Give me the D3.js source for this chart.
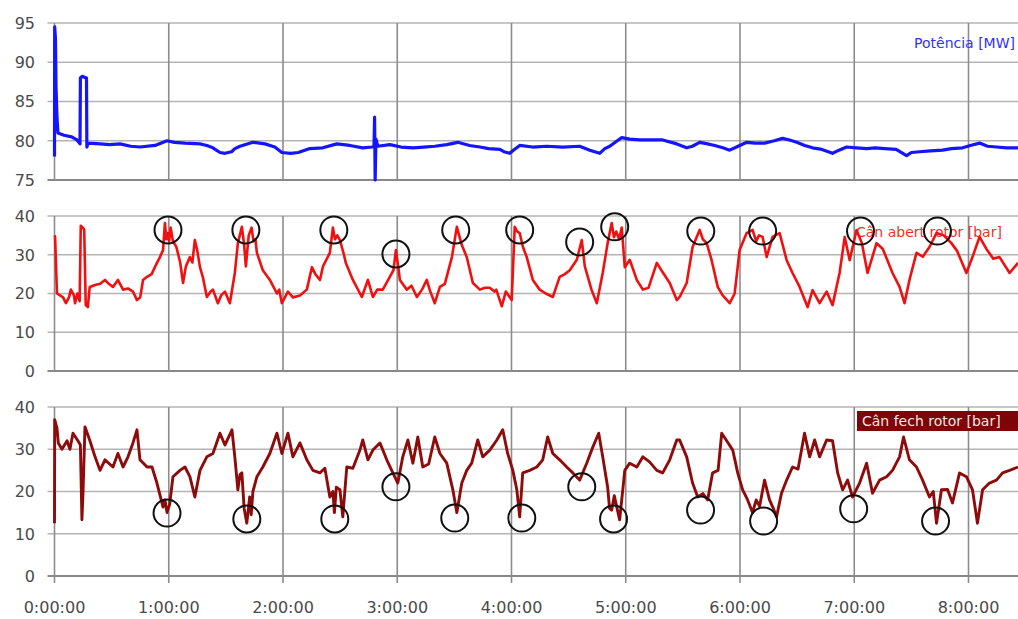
<!DOCTYPE html>
<html>
<head>
<meta charset="utf-8">
<script src="https://cdn.jsdelivr.net/npm/d3@7"></script>
<style>
  body { margin: 0; background: #fff; }
  text { font-family: 'DejaVu Sans', sans-serif; }
</style>
</head>
<body>
<div id="chart"></div>
<script>
// time in minutes from start
const hourTicks = [0, 60, 120, 180, 240, 300, 360, 420, 480];
const hourLabels = ['0:00:00', '1:00:00', '2:00:00', '3:00:00', '4:00:00', '5:00:00', '6:00:00', '7:00:00', '8:00:00'];
const potenciaTicks = [75, 80, 85, 90, 95];
const rotorTicks = [0, 10, 20, 30, 40];
const seriesNames = ['Potência [MW]', 'Cân abert rotor [bar]', 'Cân fech rotor [bar]'];

const potencia = [
  [0, 78], [0.1, 94.5], [0.5, 93], [0.8, 86.8], [1.3, 83], [1.8, 81], [5, 80.7], [9, 80.5], [11.8, 80.1],
  [13.4, 79.6], [13.6, 88], [14.5, 88.2], [16.8, 88], [17, 79.2], [17.6, 79.7], [23.9, 79.6], [29, 79.5],
  [34.4, 79.6], [40, 79.3], [44.9, 79.2], [52.8, 79.4], [59.1, 80.0], [63, 79.8], [68.5, 79.7], [76.4, 79.6],
  [80, 79.4], [83.2, 79.1], [86.9, 78.5], [89.5, 78.4], [93, 78.6], [94.7, 79.0], [97.4, 79.3], [104.2, 79.8],
  [110.5, 79.6], [115.7, 79.2], [119.4, 78.5], [124, 78.4], [128, 78.5], [134.1, 79.0], [140.9, 79.1],
  [148.3, 79.6], [155.1, 79.4], [161.9, 79.1], [166.7, 79.2], [167.8, 79.3], [168.1, 83], [168.4, 75],
  [168.8, 80.2], [169.8, 79.3], [176.1, 79.5], [182, 79.2], [188.2, 79.1], [194, 79.2], [199.7, 79.3],
  [206, 79.5], [211.8, 79.8], [218, 79.4], [223.4, 79.2], [228, 79.0], [233.9, 78.9], [236, 78.6],
  [239.1, 78.4], [241, 78.8], [244.3, 79.4], [251, 79.2], [258.5, 79.3], [266.9, 79.2], [275.8, 79.3],
  [281.1, 78.8], [286.3, 78.4], [289, 79.0], [291.6, 79.3], [295, 79.9], [297.9, 80.4], [302, 80.2],
  [307.4, 80.1], [313, 80.1], [319.4, 80.1], [326.8, 79.6], [332, 79.1], [335, 79.3], [338.8, 79.8],
  [343, 79.6], [346.7, 79.4], [351, 79.1], [354.6, 78.8], [359, 79.3], [363.5, 79.8], [368, 79.7],
  [372.9, 79.7], [378, 80.0], [382.4, 80.3], [386, 80.1], [389.8, 79.8], [394, 79.4], [398.1, 79.1],
  [403, 78.9], [408.6, 78.4], [412, 78.8], [416, 79.2], [421, 79.1], [426.5, 79.0], [431, 79.1], [436, 79.0],
  [442, 78.9], [447.5, 78.1], [450, 78.5], [454.3, 78.6], [460, 78.7], [466.4, 78.8], [471, 79.0],
  [476.9, 79.1], [481, 79.4], [485.8, 79.7], [490, 79.3], [494.7, 79.2], [500, 79.1], [506, 79.1]
];

const abertRotor = [
  [0, 35], [0.3, 34.7], [1.3, 20], [2.9, 19.5], [4.5, 19], [6, 17.5], [7.6, 19], [8.6, 21], [10.2, 19.5],
  [10.8, 17.5], [12, 20], [13.2, 18], [13.8, 37.5], [14.8, 37], [15.6, 36.5], [16.4, 17], [17.5, 16.5],
  [18.5, 21.7], [21.3, 22.2], [24, 22.5], [26.5, 23.5], [28.5, 22.5], [30.7, 21.7], [33.3, 23.5], [36, 21],
  [38.6, 21.3], [41.2, 20.5], [43.3, 18.3], [45, 19], [46.5, 23.5], [48.6, 24.3], [51, 25], [53.8, 27.9],
  [55, 29], [57, 31.2], [58, 38.2], [58.7, 34], [59.5, 35.6], [60.2, 33.5], [61, 37], [62.2, 33.5], [64, 32],
  [66, 28], [67.5, 22.7], [69, 27], [71.1, 29.4], [72.4, 28], [73.7, 33.8], [75, 31], [76.4, 26.8], [78, 24],
  [80, 19.1], [82, 20.5], [83.2, 21], [85.8, 17.5], [87.5, 19.5], [89.5, 20.5], [92.1, 17.5], [94.7, 25.3],
  [96.3, 33], [98.4, 37.2], [99.5, 33], [100.5, 27], [102, 35], [103.5, 37], [104.5, 33.5], [105.5, 34],
  [106.3, 30.5], [109.4, 26], [113.1, 23.5], [116.8, 20], [118, 21], [119.4, 17.5], [122.6, 20.5],
  [125.2, 19], [128.9, 19.5], [132.5, 21], [135.2, 26.8], [137, 25], [139.4, 23.5], [141, 27], [144.6, 30.5],
  [146.2, 37], [147.3, 34], [148.5, 35], [149.9, 33.8], [152, 30], [153, 27.9], [156.7, 23.5], [161.4, 19.1],
  [164.6, 23.5], [167.2, 19.1], [169.5, 21], [172.4, 21], [176.1, 24.3], [178, 26], [179.3, 31.2],
  [180.5, 27], [181.4, 23.5], [185, 21], [187.5, 22], [190.3, 19.1], [193, 21], [195.5, 23.5], [197, 21],
  [199.7, 17.5], [202.4, 21.7], [205, 22.5], [208.7, 29.4], [211.3, 37.2], [213.9, 32.5], [216.5, 29.4],
  [219.7, 22.7], [223.4, 21], [226, 21.5], [228.6, 21.5], [231, 20.5], [232, 21], [234.9, 16.7], [237, 20.5],
  [240.1, 18.3], [241.7, 37.2], [243, 36], [244.3, 35.6], [246, 32], [248, 29.4], [251.2, 23.5], [254.8, 21],
  [258, 20], [261.7, 19.1], [265.3, 24.3], [268, 25], [270.6, 26], [274.3, 28.7], [276.9, 33.8], [278.5, 27],
  [282, 21], [284.8, 17.5], [287.9, 25.3], [290.5, 33], [292.6, 38.2], [293.8, 34.5], [295, 36],
  [296.5, 34], [297.9, 37], [299.5, 26.8], [302.1, 28.7], [305.8, 23.5], [309, 21], [312, 21.5],
  [316.3, 27.9], [319.4, 25.5], [323.1, 22.7], [326.8, 18.3], [328.3, 19.1], [332, 22.7], [335.1, 32],
  [338.8, 36.4], [340.5, 34], [342.5, 33], [345.1, 28.6], [348.3, 21.7], [350.9, 19.5], [354.6, 17.5],
  [357.2, 20], [359.8, 31.2], [363.5, 35.6], [366.6, 36.4], [368.5, 33.5], [370, 35], [371.9, 34.6],
  [374, 29.4], [377.1, 34.6], [380.8, 35.6], [384.5, 28.6], [387.6, 25.3], [391.3, 21.7], [395.5, 16.5],
  [398.1, 20.9], [401.8, 17.5], [405.5, 20.5], [408.6, 17], [412.3, 25.3], [415, 34.6], [417.6, 28.6],
  [421.2, 36.4], [424, 33], [427, 25.3], [431.7, 33], [435, 31.5], [440.1, 25.3], [443.8, 21.7],
  [446.4, 17.5], [449, 23.5], [452.7, 30.5], [456, 29.5], [459.5, 32], [463.2, 35.6], [467, 35], [471, 33],
  [474, 31], [478.9, 25.3], [482.1, 29.4], [485.8, 34.6], [489.4, 31.5], [493, 29], [496.3, 29.4],
  [501.6, 25.3], [506, 27.9]
];

const fechRotor = [
  [0, 12.5], [0.1, 37], [1.3, 35], [2, 31.5], [3.9, 30], [6.6, 32], [8.1, 30], [9.7, 33.8], [12.3, 32],
  [13.6, 31], [14.4, 13.3], [15, 20], [16, 35.3], [18.6, 32], [21.3, 28.2], [23.9, 25], [26.5, 27.5],
  [30.7, 25.8], [33.3, 29], [36, 25.8], [38.6, 28.2], [41.2, 31.5], [43.3, 34.6], [44.9, 27.5], [48.6, 25.8],
  [51.2, 25.8], [53.8, 22], [57, 16.3], [58, 18], [59.1, 15], [60.5, 17], [62.2, 23.5], [65.9, 25],
  [68.5, 25.8], [71.1, 23.5], [73.7, 18.7], [76.4, 25], [80, 28.2], [83.2, 29], [86.9, 33.8], [89.5, 31],
  [93.2, 34.6], [94.7, 28.2], [96.3, 20.4], [97.4, 24], [98.4, 24.4], [99.6, 16], [101, 12.5], [102.5, 18.7],
  [103.3, 14.5], [104.2, 20], [106.3, 23.5], [109.4, 25.8], [113.1, 29], [116.8, 33.8], [119.4, 29],
  [122.6, 33.8], [125.2, 28.2], [128.9, 31.5], [132.5, 27.5], [135.7, 25], [139.4, 24.4], [142, 25.5],
  [144.6, 18.7], [146.2, 20], [147, 15], [148, 21], [149.9, 20.4], [151.4, 14], [153.5, 25.8], [156.7, 25.5],
  [160.4, 29.8], [161.9, 32.2], [164.6, 27.5], [167.2, 29.8], [170.9, 31.5], [174.5, 27.5], [177.7, 24.4],
  [180.3, 22], [182.9, 28.2], [185.6, 32.2], [188.2, 26.7], [190.8, 32.9], [193.4, 25.8], [196.5, 26.5],
  [199.7, 32.9], [202.4, 29], [206, 26.7], [209.2, 20.4], [211.3, 15], [213.9, 22], [216.5, 25],
  [219.1, 26.7], [222.3, 32.2], [224.9, 28.2], [228.6, 29.8], [232.3, 32.2], [235.4, 34.6], [238, 29],
  [240.7, 25], [242.8, 20.4], [244.3, 14], [245.9, 24.4], [249.6, 25], [253.3, 25.8], [256.4, 27.5],
  [259, 32.9], [261.7, 29], [265.3, 27.5], [269, 25.8], [272.2, 24.4], [275.8, 22.7], [279.5, 26.7],
  [282.7, 30.5], [285.8, 33.8], [287.9, 28.2], [290.5, 21], [291.5, 16], [292.6, 15.6], [294, 19],
  [295.3, 16.3], [296.8, 13.3], [299.5, 25], [302.1, 26.7], [305.8, 25.8], [309, 28.2], [312.5, 27],
  [316.3, 25], [319.4, 24.4], [323.1, 27.5], [326.8, 32.2], [328.3, 32.2], [332, 28.2], [335.1, 22],
  [337.8, 18.7], [340.5, 19.5], [343, 18], [345.6, 24.4], [348.5, 25], [350.4, 33.8], [353, 32],
  [356.2, 29.8], [358.8, 24.4], [361.4, 20.4], [364, 18], [366.6, 15], [368.5, 18], [370.3, 16.5],
  [372.9, 22.7], [375.5, 18], [377.5, 16], [379.2, 14], [381.8, 19.6], [384.5, 22.7], [387.6, 25.8],
  [390.5, 25.3], [393.9, 33.8], [396.6, 28.2], [399.2, 32.2], [401.8, 28.2], [405.5, 32.2], [408.6, 32],
  [411.3, 24.4], [413.9, 20.4], [416.5, 22.7], [419.1, 18.7], [422.8, 22], [426.5, 26.7], [429.6, 19.6],
  [433.3, 22.7], [437, 23.5], [440.1, 25], [443.8, 28.2], [445.9, 32.9], [449, 27.5], [452.7, 25.8],
  [455.9, 22.7], [459.5, 18.7], [461.5, 20], [463.2, 12.5], [465.8, 20.4], [469, 20.5], [471.6, 17.3],
  [475.3, 24.4], [478.9, 23.5], [482.1, 20.4], [484.7, 12.5], [487.4, 20.4], [491, 22], [494.7, 22.7],
  [497.9, 24.4], [501.6, 25], [506, 25.8]
];

// hand drawn circles on the picture
const abertMarks = [
  [59.6, 36.4], [100.5, 36.4], [146.7, 36.4], [179.3, 30.2], [210.7, 36.4], [244.3, 36.4],
  [275.8, 33.3], [294.2, 37.2], [339.4, 36.1], [371.9, 36.1], [423.3, 36.1], [463.7, 36.1]
];
const fechMarks = [
  [59.1, 14.9], [101.0, 13.5], [147.2, 13.5], [179.3, 21.1], [210.2, 13.7], [245.4, 13.7],
  [276.9, 21.1], [293.6, 13.5], [339.3, 15.6], [372.4, 13.0], [419.7, 15.9], [462.7, 13.0]
];

const width = 1018;
const height = 619;
const left = 54.5;

const svg = d3.select('#chart').
append('svg').
attr('width', width).
attr('height', height).
style('display', 'block');

const x = d3.scaleLinear().
domain([0, 506]).
range([left, width]);

const panels = [
{ data: potencia, domain: [75, 95], ticks: potenciaTicks, top: 23, bottom: 180,
  color: '#1414ff', lineWidth: 3.2, marks: null },
{ data: abertRotor, domain: [0, 40], ticks: rotorTicks, top: 216, bottom: 371,
  color: '#f01010', lineWidth: 2.6, marks: abertMarks },
{ data: fechRotor, domain: [0, 40], ticks: rotorTicks, top: 407, bottom: 576,
  color: '#8e0b0b', lineWidth: 2.9, marks: fechMarks }];


panels.forEach(function (p, i) {
  const y = d3.scaleLinear().
  domain(p.domain).
  range([p.bottom, p.top]);

  const g = svg.append('g');

  // horizontal grid + left labels
  g.selectAll('line.hgrid').
  data(p.ticks).
  enter().
  append('line').
  attr('class', 'hgrid').
  attr('x1', left - 7).
  attr('x2', width).
  attr('y1', d => y(d)).
  attr('y2', d => y(d)).
  style('stroke', d => d === p.domain[0] ? '#888' : '#b4b4b4').
  style('stroke-width', d => d === p.domain[0] ? 2 : 1.5);

  g.selectAll('text.ylab').
  data(p.ticks).
  enter().
  append('text').
  attr('class', 'ylab').
  attr('x', 35).
  attr('y', d => y(d)).
  attr('dy', '0.36em').
  attr('text-anchor', 'end').
  style('font-size', '16px').
  style('fill', '#4a4a4a').
  text(d => d);

  // vertical grid
  g.selectAll('line.vgrid').
  data(hourTicks.slice(1)).
  enter().
  append('line').
  attr('class', 'vgrid').
  attr('x1', d => x(d)).
  attr('x2', d => x(d)).
  attr('y1', p.top).
  attr('y2', i === 2 ? p.bottom + 7 : p.bottom).
  style('stroke', '#8c8c8c').
  style('stroke-width', 1.6);

  g.append('line').
  attr('x1', left).
  attr('x2', left).
  attr('y1', p.top).
  attr('y2', i === 2 ? p.bottom + 7 : p.bottom).
  style('stroke', '#8c8c8c').
  style('stroke-width', 1.6);

  // series names
  if (i === 0) {
    g.append('text').
    attr('x', 1015).
    attr('y', y(92.5)).
    attr('dy', '0.36em').
    attr('text-anchor', 'end').
    style('font-size', '14px').
    style('fill', '#3030ff').
    text(seriesNames[0]);
  } else if (i === 1) {
    g.append('text').
    attr('x', 856).
    attr('y', y(36)).
    attr('dy', '0.36em').
    style('font-size', '14px').
    style('fill', '#f03030').
    text(seriesNames[1]);
  }

  const line = d3.line().
  x(d => x(d[0])).
  y(d => y(d[1]));

  g.append('path').
  datum(p.data).
  attr('d', line).
  style('fill', 'none').
  style('stroke', p.color).
  style('stroke-width', p.lineWidth).
  style('stroke-linejoin', 'round');

  if (i === 2) {
    const box = g.append('g').
    attr('transform', 'translate(857, ' + (p.top + 4) + ')');
    box.append('rect').
    attr('width', 165).
    attr('height', 20).
    style('fill', '#7d0505');
    box.append('text').
    attr('x', 5).
    attr('y', 10).
    attr('dy', '0.36em').
    style('font-size', '14px').
    style('fill', '#f4e6e6').
    text(seriesNames[2]);
  }

  if (p.marks) {
    g.selectAll('circle').
    data(p.marks).
    enter().
    append('circle').
    attr('cx', d => x(d[0])).
    attr('cy', d => y(d[1])).
    attr('r', 13.5).
    style('fill', 'none').
    style('stroke', '#111').
    style('stroke-width', 2);
  }
});

// time labels under the last panel
svg.append('g').
selectAll('text').
data(hourTicks).
enter().
append('text').
attr('x', d => x(d)).
attr('y', 607).
attr('dy', '0.36em').
attr('text-anchor', 'middle').
style('font-size', '16px').
style('fill', '#4a4a4a').
text((d, i) => hourLabels[i]);
</script>
</body>
</html>
